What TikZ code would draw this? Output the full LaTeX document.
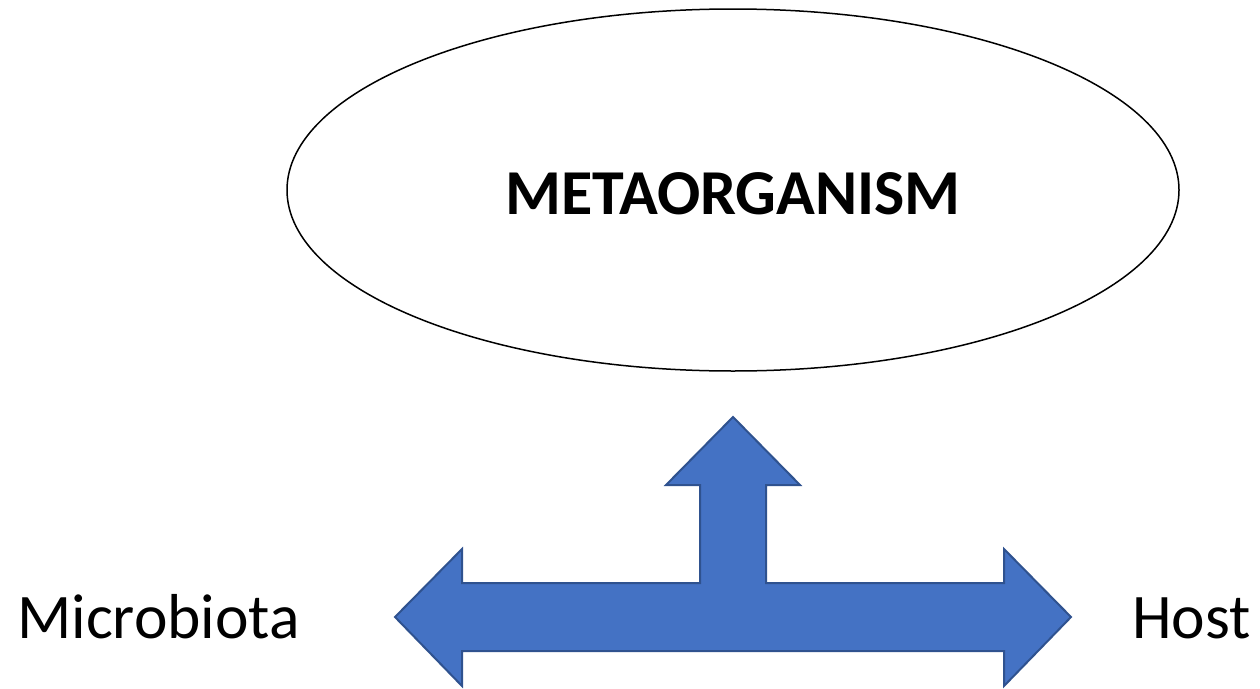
\documentclass[tikz,border=0pt]{standalone}
\usepackage{fontspec}
\setmainfont{Carlito}
\usetikzlibrary{shapes.geometric}
\definecolor{arrowfill}{HTML}{4472C4}
\definecolor{arrowline}{HTML}{2F528F}
\tikzset{
  lbl/.style={font=\fontsize{63.5}{76}\selectfont, inner sep=0pt, anchor=base west},
  bigarrow/.style={fill=arrowfill, draw=arrowline, line width=2pt, line join=miter},
  oval/.style={ellipse, draw=black, line width=1.5pt, minimum width=892pt, minimum height=362pt, inner sep=0pt}
}
\begin{document}
\begin{tikzpicture}[x=1pt,y=-1pt]
\useasboundingbox (0,0) rectangle (1260,688);
\node[oval] (meta) at (733,190) {};
\node[font=\bfseries\fontsize{64}{77}\selectfont, inner sep=0pt, anchor=base] (metatext) at (733,214) {METAORGANISM};
\draw[bigarrow] (733,417) -- (800,485) -- (766,485) -- (766,583) -- (1004,583) -- (1004,549)
  -- (1071,617) -- (1004,686) -- (1004,651) -- (462,651) -- (462,686) -- (395,617)
  -- (462,549) -- (462,583) -- (700,583) -- (700,485) -- (666,485) -- cycle;
\node[lbl] (micro) at (17,638) {Microbiota};
\node[lbl] (host) at (1132,638) {Host};
\end{tikzpicture}
\end{document}
